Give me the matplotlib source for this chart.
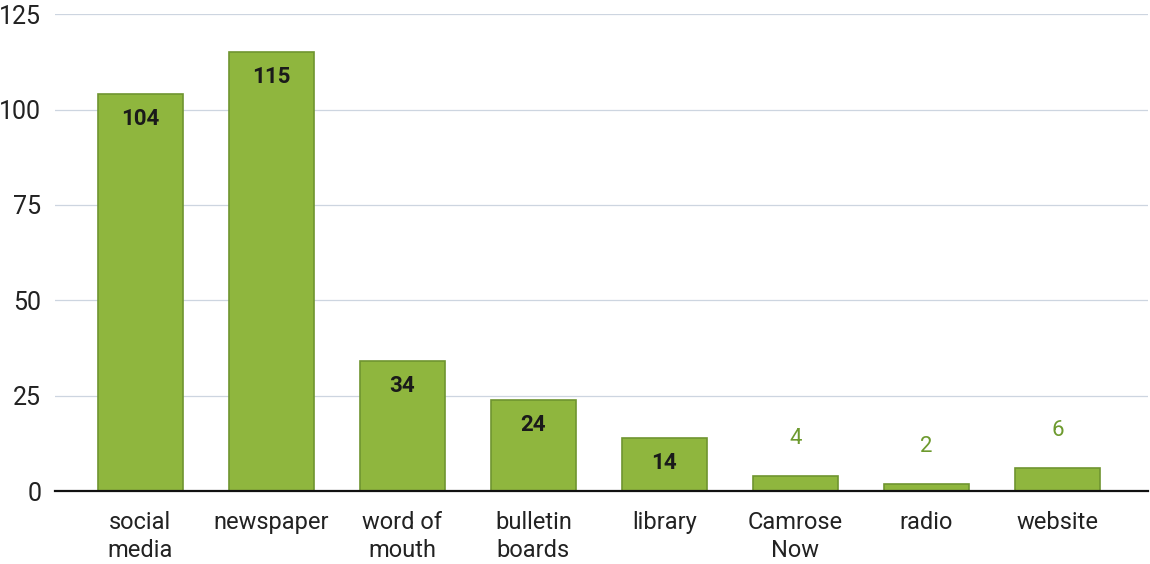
import numpy as np
import matplotlib
matplotlib.use("Agg")
import matplotlib.pyplot as plt

# data
categories = ["social\nmedia", "newspaper", "word of\nmouth", "bulletin\nboards",
              "library", "Camrose\nNow", "radio", "website"]
counts = [104, 115, 34, 24, 14, 4, 2, 6]
yticks = [0, 25, 50, 75, 100, 125]

plt.rcParams['font.family'] = ['Roboto', 'DejaVu Sans']

fig = plt.figure(figsize=(11.5, 5.64), dpi=100)
ax = fig.add_axes([0.048, 0.129, 0.950, 0.846])

x = np.arange(len(categories))
ax.bar(x, counts, width=0.65, color="#8fb63e", edgecolor="#6f9530", linewidth=1.2, zorder=3)

# value labels: inside the tall bars, above the short ones
for xi, v in zip(x, counts):
    if v >= 10:
        ax.annotate(str(v), (xi, v), xytext=(0, -18), textcoords="offset points",
                    ha="center", va="center", fontsize=16, fontweight="bold",
                    color="#1a1a1a", zorder=4)
    else:
        ax.annotate(str(v), (xi, v), xytext=(0, 27), textcoords="offset points",
                    ha="center", va="center", fontsize=16, color="#6d9a2e", zorder=4)

ax.set_xlim(-0.65, 7.69)
ax.set_ylim(0, 125)
ax.set_yticks(yticks)
ax.set_xticks(x)
ax.set_xticklabels(categories, fontsize=17, color="#222222", linespacing=1.3)
ax.tick_params(axis="y", labelsize=18, colors="#222222", length=0, pad=10)
ax.tick_params(axis="x", length=0, pad=14)

ax.grid(axis="y", color="#cdd5e0", linewidth=0.9, zorder=0)
for s in ["top", "right", "left"]:
    ax.spines[s].set_visible(False)
ax.spines["bottom"].set_color("#111111")
ax.spines["bottom"].set_linewidth(1.6)
ax.spines["bottom"].set_zorder(5)

fig.savefig("out.png", dpi=100)
